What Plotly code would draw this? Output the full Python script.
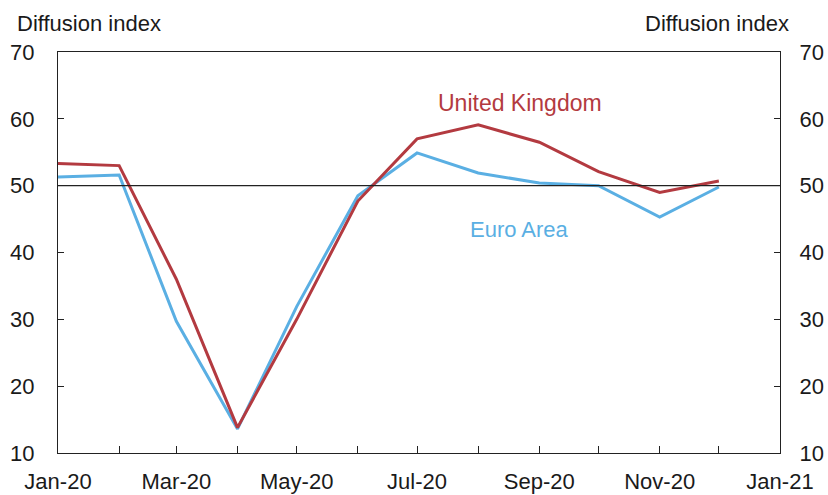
"""
PMI composite diffusion index: United Kingdom vs Euro Area, 2020.
"""
import plotly.graph_objects as go

months = ["2020-01-01", "2020-02-01", "2020-03-01", "2020-04-01", "2020-05-01", "2020-06-01",
          "2020-07-01", "2020-08-01", "2020-09-01", "2020-10-01", "2020-11-01", "2020-12-01"]
uk = [53.3, 53.0, 36.0, 13.8, 30.0, 47.7, 57.0, 59.1, 56.5, 52.1, 49.0, 50.7]
euro_area = [51.3, 51.6, 29.7, 13.6, 31.9, 48.5, 54.9, 51.9, 50.4, 50.0, 45.3, 49.8]

y_ticks = [10, 20, 30, 40, 50, 60, 70]

RED = "#b33a40"
BLUE = "#5aafe3"
FONT = "Liberation Sans, Arial, sans-serif"
INK = "#1a1a1a"

fig = go.Figure()

fig.add_trace(go.Scatter(x=months, y=euro_area, name="Euro Area", mode="lines",
                         line={"color": BLUE, "width": 3}))
fig.add_trace(go.Scatter(x=months, y=uk, name="United Kingdom", mode="lines",
                         line={"color": RED, "width": 3}))
# invisible trace just to switch on the right-hand axis
fig.add_trace(go.Scatter(x=months[:1], y=[50], yaxis="y2", mode="markers",
                         marker={"opacity": 0}, showlegend=False, hoverinfo="skip"))

fig.add_hline(y=50, line_color="#222222", line_width=1.3)

# series labels
fig.add_annotation(text="United Kingdom", x="2020-08-22", y=62.4, showarrow=False,
                   font={"color": RED, "size": 23, "family": FONT})
fig.add_annotation(text="Euro Area", x="2020-08-22", y=43.5, showarrow=False,
                   font={"color": BLUE, "size": 22, "family": FONT})

# axis titles at top
fig.add_annotation(text="Diffusion index", xref="paper", yref="paper", x=-0.06, y=1.035,
                   xanchor="left", yanchor="bottom", showarrow=False,
                   font={"color": INK, "size": 22, "family": FONT})
fig.add_annotation(text="Diffusion index", xref="paper", yref="paper", x=1.015, y=1.035,
                   xanchor="right", yanchor="bottom", showarrow=False,
                   font={"color": INK, "size": 22, "family": FONT})

axis_common = dict(
    range=[10, 70], tickvals=y_ticks, showgrid=False, zeroline=False,
    showline=True, linecolor="#222222", linewidth=1.3, automargin=False,
    ticks="inside", ticklen=6, tickcolor="#222222",
    tickfont={"size": 22, "color": INK, "family": FONT},
)

fig.update_layout(
    width=828, height=495,
    margin={"l": 58, "r": 48, "t": 52, "b": 42},
    paper_bgcolor="white", plot_bgcolor="white",
    showlegend=False,
    font={"family": FONT, "color": INK},
    xaxis=dict(
        type="date", range=["2020-01-01", "2021-01-01"],
        tickformat="%b-%y", dtick="M2", tick0="2020-01-01",
        showgrid=False, zeroline=False, showline=True, mirror=True,
        linecolor="#222222", linewidth=1.3, automargin=False,
        ticks="inside", ticklen=7, tickcolor="#222222", ticklabelstandoff=8,
        minor={"dtick": "M1", "ticks": "inside", "ticklen": 7, "tickcolor": "#222222"},
        tickfont={"size": 22, "color": INK, "family": FONT},
    ),
    yaxis=dict(side="left", ticklabelstandoff=18, **axis_common),
    yaxis2=dict(side="right", overlaying="y", ticklabelstandoff=14, **axis_common),
)

# drop the default page margin so the 828x495 figure fills the window exactly
fig.write_html("out.html", config={"displayModeBar": False},
               post_script="document.body.style.margin='0';document.body.style.overflow='hidden';")
